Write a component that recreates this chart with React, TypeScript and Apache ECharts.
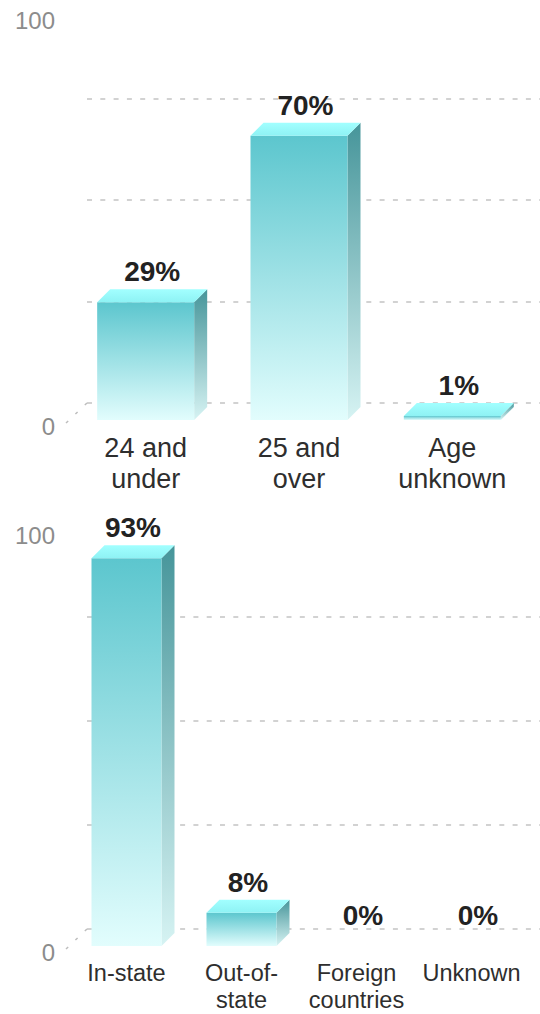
import React, { useEffect, useRef } from "react";
import * as echarts from "echarts";

// ---- data ----
const ageCategories = ["24 and\nunder", "25 and\nover", "Age\nunknown"];
const ageValues = [29, 70, 1];
const residencyCategories = ["In-state", "Out-of-\nstate", "Foreign\ncountries", "Unknown"];
const residencyValues = [93, 8, 0, 0];
const axisMin = 0;
const axisMax = 100;
const gridLineInterval = 25;
const gridLineMax = 75;

// ---- styles ----
const FONT = '"Liberation Sans", Arial, Helvetica, sans-serif';
const FLOOR_DX = 18;
const FLOOR_DY = 17;
const BAR_DEPTH = 13;

const frontGradient = () =>
  new echarts.graphic.LinearGradient(0, 0, 0, 1, [
    { offset: 0, color: "#5cc6ce" },
    { offset: 1, color: "#e2fdfd" },
  ]);
const sideGradient = () =>
  new echarts.graphic.LinearGradient(0, 0, 0, 1, [
    { offset: 0, color: "#46959a" },
    { offset: 1, color: "#d6f3f3" },
  ]);
const topGradient = () =>
  new echarts.graphic.LinearGradient(0, 0, 0, 1, [
    { offset: 0, color: "#a2ffff" },
    { offset: 1, color: "#8ef2f4" },
  ]);

function makeBarRenderer(barWidth: number) {
  return (params: any, api: any) => {
    const idx = api.value(0);
    const v = api.value(1);
    const top = api.coord([idx, v]);
    const base = api.coord([idx, 0]);
    const cx = top[0];
    const x0 = cx - barWidth / 2;
    const x1 = cx + barWidth / 2;
    const yT = top[1];
    const yB = base[1];
    const d = BAR_DEPTH;
    const children: any[] = [];
    if (v > 0) {
      children.push({
        type: "polygon",
        shape: { points: [[x1, yT], [x1 + d, yT - d], [x1 + d, yB - d], [x1, yB]] },
        style: { fill: sideGradient() },
      });
      children.push({
        type: "rect",
        shape: { x: x0, y: yT, width: barWidth, height: yB - yT },
        style: { fill: frontGradient() },
      });
      children.push({
        type: "polygon",
        shape: { points: [[x0, yT], [x0 + d, yT - d], [x1 + d, yT - d], [x1, yT]] },
        style: { fill: topGradient() },
      });
    }
    children.push({
      type: "text",
      style: {
        text: `${v}%`,
        x: cx + d / 2,
        y: yT - d - 17.5,
        textAlign: "center",
        textVerticalAlign: "middle",
        align: "center",
        verticalAlign: "middle",
        font: `bold 28px ${FONT}`,
        fill: "#222222",
      },
    });
    return { type: "group", children };
  };
}

function floorRenderer(params: any, api: any) {
  const base = api.coord([0, 0]);
  const band = api.size([1, 0])[0];
  const left = base[0] - band / 2;
  const y = base[1];
  return {
    type: "line",
    shape: { x1: left - 3, y1: y + 3, x2: left + FLOOR_DX, y2: y - FLOOR_DY },
    style: { stroke: "#bdbdbd", lineWidth: 1.5, lineDash: [3, 10] },
  };
}

export default function App() {
  const ref = useRef<HTMLDivElement>(null);
  useEffect(() => {
    document.body.style.margin = "0";
    if (!ref.current) return;
    const chart = echarts.init(ref.current, undefined, { renderer: "svg" });

    const topFront = { left: 69, width: 460, top: 14, height: 406 };
    const botFront = { left: 69, width: 460, top: 529, height: 417 };
    const backGrid = (g: any) => {
      const h = (g.height * gridLineMax) / axisMax;
      const baseY = g.top + g.height - FLOOR_DY;
      return { left: g.left + FLOOR_DX, width: g.width, top: baseY - h, height: h };
    };

    const grids = [topFront, botFront, backGrid(topFront), backGrid(botFront)].map((g) => ({
      ...g,
      containLabel: false,
      outerBoundsMode: "none",
    }));

    const catAxis = (gridIndex: number, data: string[], fontSize: number, lineHeight: number, margin: number) => ({
      type: "category",
      gridIndex,
      data,
      axisLine: { show: false },
      axisTick: { show: false },
      splitLine: { show: false },
      axisLabel: {
        interval: 0,
        margin,
        fontSize,
        lineHeight,
        color: "#2e2e2e",
        fontFamily: FONT,
      },
    });
    const valAxis = (gridIndex: number) => ({
      type: "value",
      gridIndex,
      min: axisMin,
      max: axisMax,
      interval: axisMax - axisMin,
      axisLine: { show: false },
      axisTick: { show: false },
      splitLine: { show: false },
      axisLabel: {
        margin: 14,
        fontSize: 24,
        color: "#8c8c8c",
        fontFamily: FONT,
        verticalAlign: "top",
        lineHeight: 12,
      },
    });
    const backY = (gridIndex: number) => ({
      type: "value",
      gridIndex,
      min: axisMin,
      max: gridLineMax,
      interval: gridLineInterval,
      axisLine: { show: false },
      axisTick: { show: false },
      axisLabel: { show: false },
      splitLine: {
        show: true,
        lineStyle: { color: "#c4c4c4", width: 1.5, type: [5, 8.3] },
      },
    });

    chart.setOption({
      animation: false,
      textStyle: { fontFamily: FONT },
      grid: grids,
      xAxis: [
        catAxis(0, ageCategories, 27, 31, 12),
        catAxis(1, residencyCategories, 23.5, 27, 13),
        { type: "value", gridIndex: 2, show: false },
        { type: "value", gridIndex: 3, show: false },
      ],
      yAxis: [valAxis(0), valAxis(1), backY(2), backY(3)],
      series: [
        {
          type: "custom",
          xAxisIndex: 0,
          yAxisIndex: 0,
          renderItem: floorRenderer,
          data: [[0, 0]],
          z: 1,
          clip: false,
        },
        {
          type: "custom",
          xAxisIndex: 1,
          yAxisIndex: 1,
          renderItem: floorRenderer,
          data: [[0, 0]],
          z: 1,
          clip: false,
        },
        {
          type: "custom",
          xAxisIndex: 0,
          yAxisIndex: 0,
          renderItem: makeBarRenderer(97),
          encode: { x: 0, y: 1 },
          data: ageValues.map((v, i) => [i, v]),
          z: 5,
          clip: false,
        },
        {
          type: "custom",
          xAxisIndex: 1,
          yAxisIndex: 1,
          renderItem: makeBarRenderer(70),
          encode: { x: 0, y: 1 },
          data: residencyValues.map((v, i) => [i, v]),
          z: 5,
          clip: false,
        },
      ],
    });
    return () => chart.dispose();
  }, []);
  return (
    <div
      ref={ref}
      style={{ position: "absolute", left: 0, top: 0, width: 540, height: 1014, background: "#ffffff" }}
    />
  );
}
